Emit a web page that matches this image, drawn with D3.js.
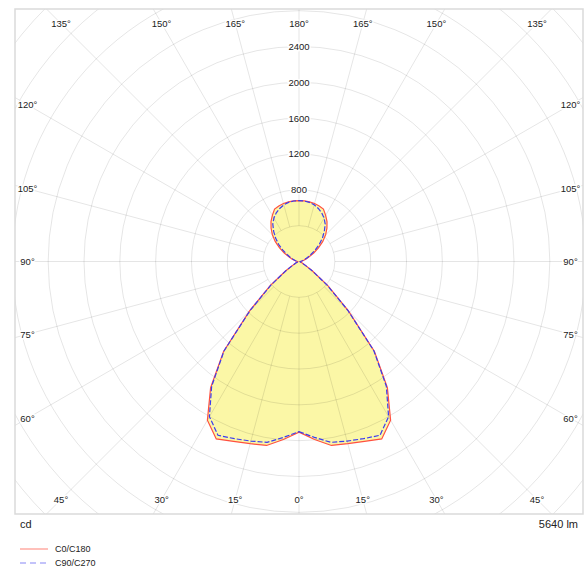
<!DOCTYPE html>
<html>
<head>
<meta charset="utf-8">
<script src="https://cdn.jsdelivr.net/npm/d3@7"></script>
<style>
  html, body { margin: 0; padding: 0; background: #fff; }
  svg { display: block; }
  text { font-family: "Liberation Sans", Arial, sans-serif; fill: #222; }
</style>
</head>
<body>
<svg id="chart" width="586" height="572"></svg>
<script>
// ---- data ----
const gammaAngles = [0,5,10,15,20,25,30,35,40,45,50,55,60,65,70,75,80,85,90,
                     95,100,105,110,115,120,125,130,135,140,145,150,155,160,165,170,175,180];
const c0c180 = [1905,1995,2085,2105,2137,2185,2045,1720,1310,780,420,180,70,35,22,16,14,12,12,
                20,35,55,85,125,190,265,345,420,485,545,595,645,660,670,675,680,680];
const c90c270 = [1900,1970,2050,2075,2105,2140,2000,1700,1300,770,410,175,70,35,22,16,14,12,12,
                 18,30,45,70,105,150,220,295,370,440,510,560,600,630,655,670,678,680];
const radialTickLabels = [800, 1200, 1600, 2000, 2400];
const gridCircleValues = [400, 800, 1200, 1600, 2000, 2400, 2800, 3200, 3600, 4000, 4400, 4800];
const spokeAngles = d3.range(0, 360, 15);
const angleLabelValues = [0, 15, 30, 45, 60, 75, 90, 105, 120, 135, 150, 165, 180];
const seriesNames = ["C0/C180", "C90/C270"];
const unitLabel = "cd";
const fluxLabel = "5640 lm";

// ---- layout ----
const svg = d3.select("#chart");
const frame = {x: 15, y: 9, w: 568, h: 505};
const cx = frame.x + frame.w / 2, cy = frame.y + frame.h / 2;
const r = d3.scaleLinear().domain([0, 2400]).range([0, 215]);
const rad = d => d * Math.PI / 180;

svg.append("defs").append("clipPath").attr("id", "fr")
  .append("rect").attr("x", frame.x).attr("y", frame.y).attr("width", frame.w).attr("height", frame.h);

const g = svg.append("g").attr("clip-path", "url(#fr)");
const plot = g.append("g").attr("transform", `translate(${cx},${cy})`);

// closed polar curve: right half (gamma 0 -> 180), then left half (180 -> 0)
function polarPoints(vals) {
  const pts = [];
  gammaAngles.forEach((a, i) => pts.push([Math.PI - rad(a), r(vals[i])]));
  for (let i = gammaAngles.length - 1; i >= 0; i--) pts.push([Math.PI + rad(gammaAngles[i]), r(vals[i])]);
  return pts;
}
const line = d3.lineRadial().angle(d => d[0]).radius(d => d[1]).curve(d3.curveLinearClosed);

// fill
[c0c180, c90c270].forEach(vals => {
  plot.append("path").attr("d", line(polarPoints(vals)))
    .attr("fill", "#fbf7a6").attr("stroke", "none");
});

// grid circles
plot.selectAll("circle.grid").data(gridCircleValues).enter().append("circle")
  .attr("r", d => r(d)).attr("fill", "none")
  .attr("stroke", "#000").attr("stroke-opacity", 0.1).attr("stroke-width", 1);

// spokes
const rMax = r(gridCircleValues[gridCircleValues.length - 1]);
plot.selectAll("line.spoke").data(spokeAngles).enter().append("line")
  .attr("x1", d => r(400) * Math.sin(rad(d))).attr("y1", d => r(400) * Math.cos(rad(d)))
  .attr("x2", d => rMax * Math.sin(rad(d))).attr("y2", d => rMax * Math.cos(rad(d)))
  .attr("stroke", "#000").attr("stroke-opacity", 0.1).attr("stroke-width", 1);

// curves
plot.append("path").attr("d", line(polarPoints(c0c180)))
  .attr("fill", "none").attr("stroke", "#ff5040").attr("stroke-width", 1.2);
plot.append("path").attr("d", line(polarPoints(c90c270)))
  .attr("fill", "none").attr("stroke", "#3b3bf0").attr("stroke-width", 1.2)
  .attr("stroke-dasharray", "5,2");

// frame
svg.append("rect").attr("x", frame.x).attr("y", frame.y).attr("width", frame.w).attr("height", frame.h)
  .attr("fill", "none").attr("stroke", "#dadada").attr("stroke-width", 1.5);

// radial value labels
const labels = svg.append("g").attr("transform", `translate(${cx},${cy})`);
labels.selectAll("text.rv").data(radialTickLabels).enter().append("text")
  .attr("x", 0).attr("y", d => -r(d)).attr("dy", "0.35em")
  .attr("text-anchor", "middle").attr("font-size", 9.5)
  .attr("stroke", "#fff").attr("stroke-width", 3).attr("paint-order", "stroke")
  .text(d => d);

// angle labels around the frame
const hx = 271.5, hy = 238;
const angleItems = [];
angleLabelValues.forEach(a => {
  angleItems.push({a: a, side: 1});
  if (a !== 0 && a !== 180) angleItems.push({a: a, side: -1});
});
labels.selectAll("text.ang").data(angleItems).enter().append("text")
  .each(function(d) {
    const s = Math.sin(rad(d.a)) * d.side, c = Math.cos(rad(d.a));
    const t = Math.min(Math.abs(s) > 1e-9 ? hx / Math.abs(s) : Infinity, Math.abs(c) > 1e-9 ? hy / Math.abs(c) : Infinity);
    d3.select(this).attr("x", t * s).attr("y", t * c);
  })
  .attr("dy", "0.35em").attr("text-anchor", "middle").attr("font-size", 9.5)
  .attr("stroke", "#fff").attr("stroke-width", 3).attr("paint-order", "stroke")
  .text(d => d.a + "°");

// unit and flux labels
svg.append("text").attr("x", 20).attr("y", 528).attr("font-size", 11).text(unitLabel);
svg.append("text").attr("x", 578).attr("y", 528).attr("font-size", 11).attr("text-anchor", "end").text(fluxLabel);

// legend
const legend = svg.append("g");
const legendStyles = [{c: "#ff5040", dash: null}, {c: "#3b3bf0", dash: "6,4"}];
seriesNames.forEach((name, i) => {
  const y = 549 + i * 14;
  legend.append("line").attr("x1", 20).attr("x2", 48).attr("y1", y).attr("y2", y)
    .attr("stroke", legendStyles[i].c).attr("stroke-opacity", 0.6).attr("stroke-width", 1.2)
    .attr("stroke-dasharray", legendStyles[i].dash);
  legend.append("text").attr("x", 55).attr("y", y).attr("dy", "0.35em")
    .attr("font-size", 9).text(name);
});
</script>
</body>
</html>
